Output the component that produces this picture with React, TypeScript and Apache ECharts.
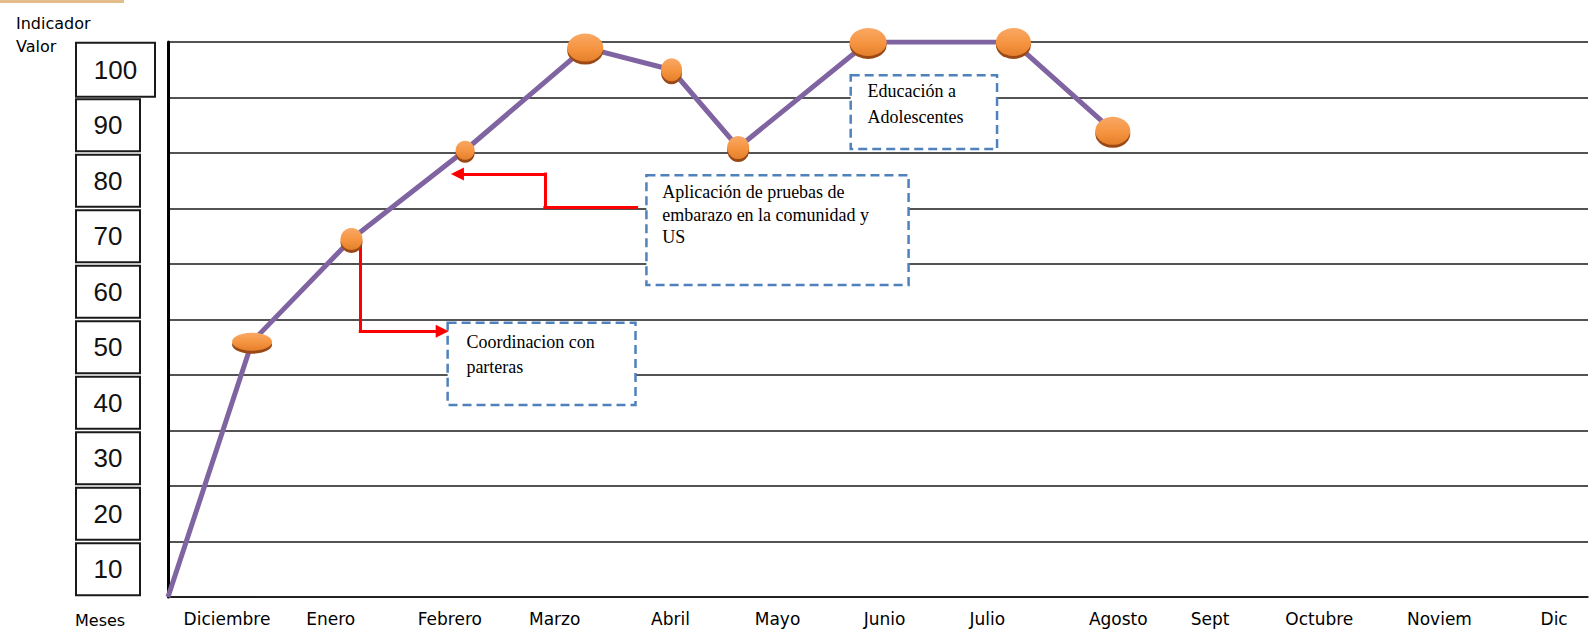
import React, { useEffect, useRef } from "react";
import * as echarts from "echarts";

// ---- data ----
const months = ["Diciembre", "Enero", "Febrero", "Marzo", "Abril", "Mayo", "Junio", "Julio", "Agosto", "Sept", "Octubre", "Noviem", "Dic"];
// position of each month label on the (month-unit) x axis
const monthLabelPos = [0.54, 1.49, 2.58, 3.54, 4.6, 5.58, 6.56, 7.5, 8.7, 9.54, 10.54, 11.64, 12.69];
// observed points: x in month units, y = indicator value
const pointX = [0, 0.77, 1.68, 2.72, 3.82, 4.61, 5.22, 6.41, 7.74, 8.65];
const indicador = [0, 46, 64.5, 80.5, 99, 95, 81, 100, 100, 84];
const yTickValues = [10, 20, 30, 40, 50, 60, 70, 80, 90, 100];

// annotations (data units): [x1, y1, x2, y2]
const noteTexts = [
  "Educación a\nAdolescentes",
  "Aplicación de pruebas de\nembarazo en la comunidad y\nUS",
  "Coordinacion con\nparteras",
];
const noteBoxes = [
  [6.25, 94.0, 7.59, 80.7],
  [4.38, 76.0, 6.78, 56.2],
  [2.56, 49.4, 4.28, 34.6],
];
const arrowA = [[4.29, 70.3], [3.45, 70.3], [3.45, 76.2], [2.65, 76.2]];
const arrowB = [[1.76, 63.8], [1.76, 47.9], [2.51, 47.9]];

// ---- styles ----
const markerSizes = [[0, 0], [40, 18], [22, 22], [19, 19], [36, 28], [21, 23], [22, 23], [37, 28], [35, 28], [35, 28]];
const noteLabelStyle = [
  { lineHeight: 26, padding: [4, 0, 0, 18] },
  { lineHeight: 22.5, padding: [7, 0, 0, 17] },
  { lineHeight: 25, padding: [8, 0, 0, 20] },
];

function arrowSegments(path: number[][]) {
  const segs: any[] = [];
  for (let i = 0; i < path.length - 1; i++) {
    const last = i === path.length - 2;
    segs.push([
      { coord: path[i], symbol: "none" },
      { coord: path[i + 1], symbol: last ? "triangle" : "none", symbolSize: last ? [13, 13] : 0 },
    ]);
  }
  return segs;
}

export default function App() {
  const ref = useRef<HTMLDivElement>(null);
  useEffect(() => {
    if (!ref.current) return;
    const chart = echarts.init(ref.current, undefined, { renderer: "svg" });
    const sans = "DejaVu Sans";
    const boxFont = '"Liberation Sans Narrow", "Liberation Sans", sans-serif';
    const boxBase = {
      align: "center",
      verticalAlign: "middle",
      borderColor: "#1a1a1a",
      borderWidth: 2,
      fontSize: 26,
      fontFamily: boxFont,
      color: "#111",
    };
    chart.setOption({
      animation: false,
      backgroundColor: "#fff",
      title: [
        {
          text: "Indicador\nValor",
          left: 11,
          top: 7,
          textStyle: { fontFamily: sans, fontSize: 16, fontWeight: "normal", color: "#000", lineHeight: 23 },
        },
        {
          text: "Meses",
          left: 70,
          top: 605,
          textStyle: { fontFamily: sans, fontSize: 16, fontWeight: "normal", color: "#000", lineHeight: 20 },
        },
      ],
      graphic: [
        { type: "rect", left: 0, top: 0, shape: { width: 124, height: 3 }, style: { fill: "#E3BE8C" } },
      ],
      grid: { left: 168, right: 3, top: 42, bottom: 34, containLabel: false },
      xAxis: {
        type: "value",
        min: 0,
        max: 13,
        axisLine: { show: true, lineStyle: { color: "#111", width: 1.6 } },
        axisTick: { show: false },
        splitLine: { show: false },
        axisLabel: {
          customValues: monthLabelPos,
          margin: 13,
          fontFamily: sans,
          fontSize: 17,
          color: "#000",
          hideOverlap: false,
          formatter: (v: number) => {
            const i = monthLabelPos.findIndex((p) => Math.abs(p - v) < 1e-6);
            return i >= 0 ? months[i] : "";
          },
        },
      },
      yAxis: {
        type: "value",
        min: 0,
        max: 100,
        interval: 10,
        axisLine: { show: true, lineStyle: { color: "#000", width: 3 } },
        axisTick: { show: false },
        splitLine: { show: true, lineStyle: { color: "#1a1a1a", width: 1.6 } },
        axisLabel: {
          customValues: yTickValues.map((v) => v - 5),
          align: "left",
          margin: 92,
          formatter: (v: number) => {
            const t = Math.round(v + 5);
            return t === 100 ? `{big|${t}}` : `{box|${t}}`;
          },
          rich: {
            box: { ...boxBase, width: 64, height: 52, lineHeight: 52 },
            big: { ...boxBase, width: 79, height: 54, lineHeight: 54 },
          },
        },
      },
      series: [
        {
          type: "line",
          data: pointX.map((x, i) => [x, indicador[i]]),
          symbol: "circle",
          symbolSize: (_v: any, p: any) => markerSizes[p.dataIndex],
          showSymbol: true,
          lineStyle: { color: "#8064A2", width: 5 },
          itemStyle: {
            color: new echarts.graphic.LinearGradient(0, 0, 0, 1, [
              { offset: 0, color: "#F9A865" },
              { offset: 0.55, color: "#F59440" },
              { offset: 1, color: "#E47F2A" },
            ]),
            shadowColor: "#9A4A12",
            shadowOffsetY: 3,
            shadowBlur: 0,
          },
          z: 5,
          markArea: {
            silent: true,
            itemStyle: {
              color: "#fff",
              opacity: 1,
              borderColor: "#4F81BD",
              borderWidth: 2.5,
              borderType: [9, 5],
            },
            label: {
              show: true,
              position: "insideTopLeft",
              distance: 0,
              color: "#000",
              fontFamily: '"Liberation Serif", serif',
              fontSize: 18,
            },
            data: noteBoxes.map((b, i) => [
              {
                coord: [b[0], b[1]],
                name: noteTexts[i],
                label: { ...noteLabelStyle[i], formatter: noteTexts[i] },
              },
              { coord: [b[2], b[3]] },
            ]),
          },
          markLine: {
            silent: true,
            symbol: ["none", "none"],
            lineStyle: { color: "#FF0000", width: 3, type: "solid", cap: "square" },
            itemStyle: { color: "#FF0000" },
            label: { show: false },
            emphasis: { disabled: true },
            data: [...arrowSegments(arrowA), ...arrowSegments(arrowB)],
          },
        },
      ],
    });
    return () => chart.dispose();
  }, []);
  return <div ref={ref} style={{ position: "fixed", left: 0, top: 0, width: 1591, height: 631 }} />;
}
